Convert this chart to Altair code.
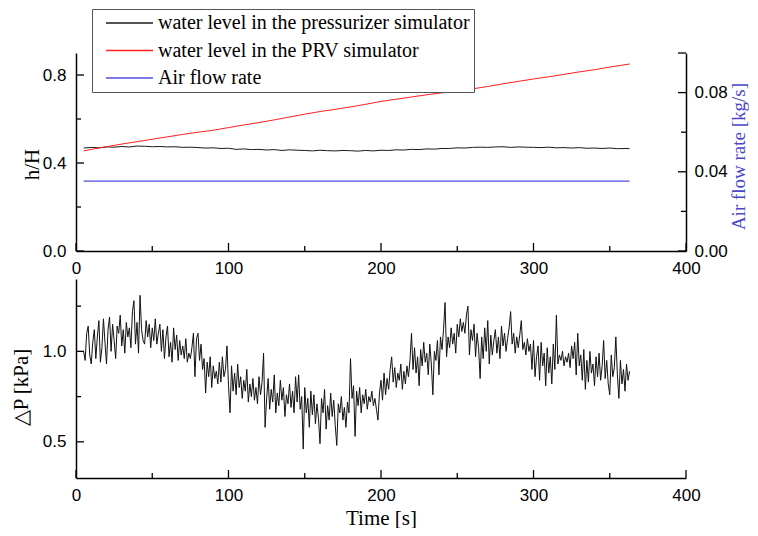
import altair as alt
import pandas as pd

# ---------------- data ----------------
series_names = [
    "water level in the pressurizer simulator",
    "water level in the PRV simulator",
    "Air flow rate",
]
series_colors = ["#1a1a1a", "#ff1f1f", "#4f4fe0"]

pz_time = [5, 10, 15, 20, 25, 30, 35, 40, 45, 50, 55, 60, 65, 70, 75, 80, 85, 90,
           95, 100, 105, 110, 115, 120, 125, 130, 135, 140, 145, 150, 155, 160,
           165, 170, 175, 180, 185, 190, 195, 200, 205, 210, 215, 220, 225, 230,
           235, 240, 245, 250, 255, 260, 265, 270, 275, 280, 285, 290, 295, 300,
           305, 310, 315, 320, 325, 330, 335, 340, 345, 350, 355, 360, 363]
pz_level = [.468, .471, .469, .473, .472, .475, .473, .477, .476, .474, .475, .473,
            .474, .471, .472, .470, .468, .469, .466, .467, .462, .464, .461, .462,
            .459, .461, .457, .460, .458, .457, .455, .458, .456, .455, .457, .456,
            .454, .457, .455, .458, .457, .460, .459, .462, .461, .464, .463, .466,
            .466, .469, .468, .471, .472, .471, .473, .474, .471, .473, .472, .471,
            .470, .472, .469, .470, .468, .470, .467, .468, .466, .468, .465, .466,
            .465]

prv_time = [5, 10, 20, 30, 40, 50, 60, 70, 80, 90, 100, 110, 120, 130, 140, 150,
            160, 170, 180, 190, 200, 210, 220, 230, 240, 250, 260, 270, 280, 290,
            300, 310, 320, 330, 340, 350, 363]
prv_level = [.455, .462, .474, .486, .497, .508, .519, .530, .540, .549, .561, .573,
             .584, .596, .609, .622, .634, .644, .655, .667, .680, .690, .700, .710,
             .719, .727, .737, .748, .760, .771, .782, .792, .803, .814, .824, .836,
             .850]

air_time = [5, 363]
air_flow = [0.0353, 0.0353]

dp_t0 = 5  # first sample time [s], one sample per second
dp_values = [
    1.00, 0.95, 1.10, 1.14, 0.98, 0.93, 1.05, 1.12, 0.96, 1.08,
    1.17, 0.94, 1.02, 1.18, 1.05, 0.93, 1.12, 1.19, 1.00, 1.15,
    1.06, 0.96, 1.14, 1.10, 1.20, 1.03, 1.12, 0.99, 1.16, 1.08,
    1.13, 1.02, 1.22, 1.28, 1.04, 1.16, 0.99, 1.31, 1.12, 1.06,
    1.04, 1.17, 1.08, 1.15, 1.02, 1.13, 1.06, 1.18, 1.04, 1.10,
    1.15, 1.00, 1.12, 0.96, 1.08, 1.14, 0.97, 1.05, 0.94, 1.13,
    1.01, 1.09, 0.95, 1.06, 0.98, 1.03, 0.96, 1.07, 0.94, 0.99,
    0.96, 1.02, 1.10, 0.86, 1.07, 1.10, 0.95, 1.04, 0.90, 0.96,
    0.77, 0.94, 0.86, 0.97, 0.80, 0.92, 0.85, 0.89, 0.82, 0.94,
    0.83, 0.97, 0.86, 0.90, 1.03, 0.81, 0.66, 0.92, 0.78, 0.88,
    0.76, 0.93, 0.80, 0.86, 0.74, 0.84, 0.78, 0.90, 0.72, 0.82,
    0.75, 0.85, 0.73, 0.80, 0.71, 0.86, 0.76, 0.83, 0.99, 0.58,
    0.74, 0.85, 0.68, 0.79, 0.72, 0.87, 0.66, 0.77, 0.70, 0.84,
    0.73, 0.80, 0.64, 0.76, 0.71, 0.82, 0.69, 0.78, 0.66, 0.86,
    0.72, 0.87, 0.68, 0.75, 0.46, 0.80, 0.66, 0.74, 0.58, 0.78,
    0.65, 0.76, 0.60, 0.71, 0.63, 0.49, 0.74, 0.66, 0.79, 0.57,
    0.70, 0.62, 0.77, 0.64, 0.73, 0.59, 0.48, 0.71, 0.66, 0.75,
    0.62, 0.69, 0.58, 0.72, 0.66, 0.96, 0.74, 0.81, 0.53, 0.78,
    0.70, 0.80, 0.66, 0.76, 0.71, 0.79, 0.68, 0.75, 0.72, 0.78,
    0.70, 0.74, 0.68, 0.62, 0.77, 0.84, 0.73, 0.88, 0.76, 0.85,
    0.79, 0.90, 0.97, 0.83, 0.91, 0.80, 0.88, 0.84, 0.93, 0.79,
    0.89, 0.82, 0.92, 0.86, 0.95, 1.10, 0.90, 1.02, 0.88, 0.97,
    0.81, 1.01, 0.92, 1.05, 0.94, 0.99, 0.87, 1.04, 0.93, 0.76,
    1.00, 0.95, 1.06, 0.87, 1.08, 1.01, 1.12, 1.27, 0.97, 1.08,
    1.02, 1.13, 1.04, 1.10, 0.99, 1.15, 1.08, 1.18, 1.11, 1.16,
    1.10, 1.20, 1.25, 0.98, 1.12, 1.06, 1.15, 0.97, 1.10, 1.02,
    0.85, 1.08, 0.96, 1.13, 1.00, 1.17, 0.93, 1.09, 0.98, 1.06,
    1.12, 0.99, 1.08, 0.96, 1.14, 1.03, 1.10, 1.00, 1.07, 1.13,
    1.22, 1.04, 1.10, 0.99, 1.08, 1.02, 1.09, 1.17, 1.01, 1.05,
    0.98, 1.07, 1.00, 1.04, 0.90, 1.06, 0.86, 0.97, 1.03, 0.84,
    1.05, 0.92, 0.99, 0.81, 1.02, 0.88, 0.97, 0.82, 1.04, 0.90,
    1.20, 0.93, 0.98, 0.95, 1.00, 0.92, 0.97, 0.94, 0.99, 0.91,
    1.03, 0.96, 1.05, 0.87, 1.10, 0.92, 0.98, 0.84, 1.01, 0.79,
    0.95, 0.83, 1.00, 0.88, 0.93, 0.81, 0.97, 0.86, 0.99, 0.84,
    0.92, 1.06, 0.85, 0.95, 0.82, 0.76, 0.98, 0.86, 0.91, 1.08,
    0.87, 0.74, 0.95, 0.82, 0.90, 0.78, 0.93, 0.84, 0.89,
]

x_major = [0, 100, 200, 300, 400]
x_minor = [50, 150, 250, 350]
hH_major = [0.0, 0.4, 0.8]
hH_minor = [0.2, 0.6]
air_major = [0.0, 0.04, 0.08, 0.10]
air_labels = [0.0, 0.04, 0.08]
air_minor = [0.02, 0.06]
dp_major = [0.5, 1.0]
dp_minor = [0.75, 1.25]

# ---------------- layout constants ----------------
SANS = "Liberation Sans"
SERIF = "Liberation Serif"
W = 610
H_TOP = 198
H_BOT = 199
MAJ = 8
MIN = 5
AXIS_BLUE = "#4848c8"

# ---------------- tables ----------------
lines_df = pd.concat([
    pd.DataFrame({"t": pz_time, "v": pz_level, "series": series_names[0]}),
    pd.DataFrame({"t": prv_time, "v": prv_level, "series": series_names[1]}),
])
air_df = pd.DataFrame({"t": air_time, "v": air_flow, "series": series_names[2]})
dp_df = pd.DataFrame({"t": [dp_t0 + i for i in range(len(dp_values))], "v": dp_values})


def vals(lst):
    return pd.DataFrame({"v": lst})


xscale = alt.Scale(domain=[0, 400], nice=False, zero=False)
hH_scale = alt.Scale(domain=[0, 0.9], nice=False)
air_scale = alt.Scale(domain=[0, 0.1], nice=False)
dp_scale = alt.Scale(domain=[0.3, 1.4], nice=False, zero=False)

x_axis_top = alt.Axis(values=x_major, title=None, labelFlush=False, labelPadding=9)
x_axis_bot = alt.Axis(values=x_major, title="Time [s]", labelFlush=False, labelPadding=9,
                      titleY=40, titleBaseline="middle")

color = alt.Color(
    "series:N",
    sort=series_names,
    scale=alt.Scale(domain=series_names, range=series_colors),
    legend=alt.Legend(
        orient="none", legendX=16, legendY=-44, title=None,
        symbolType="stroke", symbolSize=2209, symbolStrokeWidth=1.3,
        clipHeight=20, rowPadding=7.5, padding=4, symbolOffset=9, labelOffset=4,
        labelFont=SERIF, labelFontSize=20, labelColor="black", labelLimit=0,
        strokeColor="#555555", fillColor="white", cornerRadius=0,
    ),
)

top_lines = alt.Chart(lines_df).mark_line(strokeWidth=1).encode(
    x=alt.X("t:Q", scale=xscale, axis=x_axis_top),
    y=alt.Y("v:Q", scale=hH_scale, axis=alt.Axis(
        values=hH_major, format=".1f", title="h/H", labelPadding=10,
        titleAngle=270, titleAlign="center", titleBaseline="middle",
        titleX=-44, titleY=111)),
    color=color,
)

top_air = alt.Chart(air_df).mark_line(strokeWidth=1.2, stroke=series_colors[2]).encode(
    x=alt.X("t:Q", scale=xscale, axis=x_axis_top),
    y=alt.Y("v:Q", scale=air_scale, axis=alt.Axis(
        orient="right", values=air_labels, format=".2f", title="Air flow rate [kg/s]",
        labelPadding=8, titleColor=AXIS_BLUE, titleFontSize=19,
        titleAngle=270, titleAlign="center", titleBaseline="middle",
        titleX=52.5, titleY=103)),
    color=color,
)


def xticks(lst, size, h, axis):
    return alt.Chart(vals(lst)).mark_rule(color="black", strokeWidth=1.3).encode(
        x=alt.X("v:Q", scale=xscale, axis=axis),
        y=alt.value(h), y2=alt.value(h - size))


def yticks_left(lst, size, scale):
    return alt.Chart(vals(lst)).mark_rule(color="black", strokeWidth=1.3).encode(
        y=alt.Y("v:Q", scale=scale, axis=None),
        x=alt.value(0), x2=alt.value(size))


def yticks_right(lst, size, scale):
    return alt.Chart(vals(lst)).mark_rule(color="black", strokeWidth=1.3).encode(
        y=alt.Y("v:Q", scale=scale, axis=None),
        x=alt.value(W), x2=alt.value(W - size))


top = alt.layer(
    top_lines, top_air,
    xticks(x_major, MAJ, H_TOP, x_axis_top), xticks(x_minor, MIN, H_TOP, x_axis_top),
    yticks_left(hH_major, MAJ, hH_scale), yticks_left(hH_minor, MIN, hH_scale),
    yticks_right(air_major, MAJ, air_scale), yticks_right(air_minor, MIN, air_scale),
).resolve_scale(y="independent").properties(width=W, height=H_TOP)

bot_line = alt.Chart(dp_df).mark_line(strokeWidth=1, color="#111111").encode(
    x=alt.X("t:Q", scale=xscale, axis=x_axis_bot),
    y=alt.Y("v:Q", scale=dp_scale, axis=alt.Axis(
        values=dp_major, format=".1f", title="△P [kPa]", labelPadding=10,
        titleAngle=270, titleAlign="center", titleBaseline="middle",
        titleX=-55, titleY=108)),
)

bottom = alt.layer(
    bot_line,
    xticks(x_major, MAJ, H_BOT, x_axis_bot), xticks(x_minor, MIN, H_BOT, x_axis_bot),
    yticks_left(dp_major, MAJ, dp_scale), yticks_left(dp_minor, MIN, dp_scale),
).resolve_scale(y="independent").properties(width=W, height=H_BOT)

chart = alt.vconcat(top, bottom, spacing=3).resolve_scale(
    x="independent", y="independent", color="independent"
).properties(
    padding={"left": 2, "top": 0, "right": 0, "bottom": 0},
    background="white",
).configure_view(stroke=None).configure_axis(
    labelFont=SANS, labelFontSize=17, labelColor="black",
    titleFont=SERIF, titleFontSize=21, titleFontWeight="normal", titleColor="black",
    domainColor="black", domainWidth=1.5, ticks=False, grid=False, labelOverlap=False,
)

chart.save("out.html", embed_options={"renderer": "svg", "actions": False})
